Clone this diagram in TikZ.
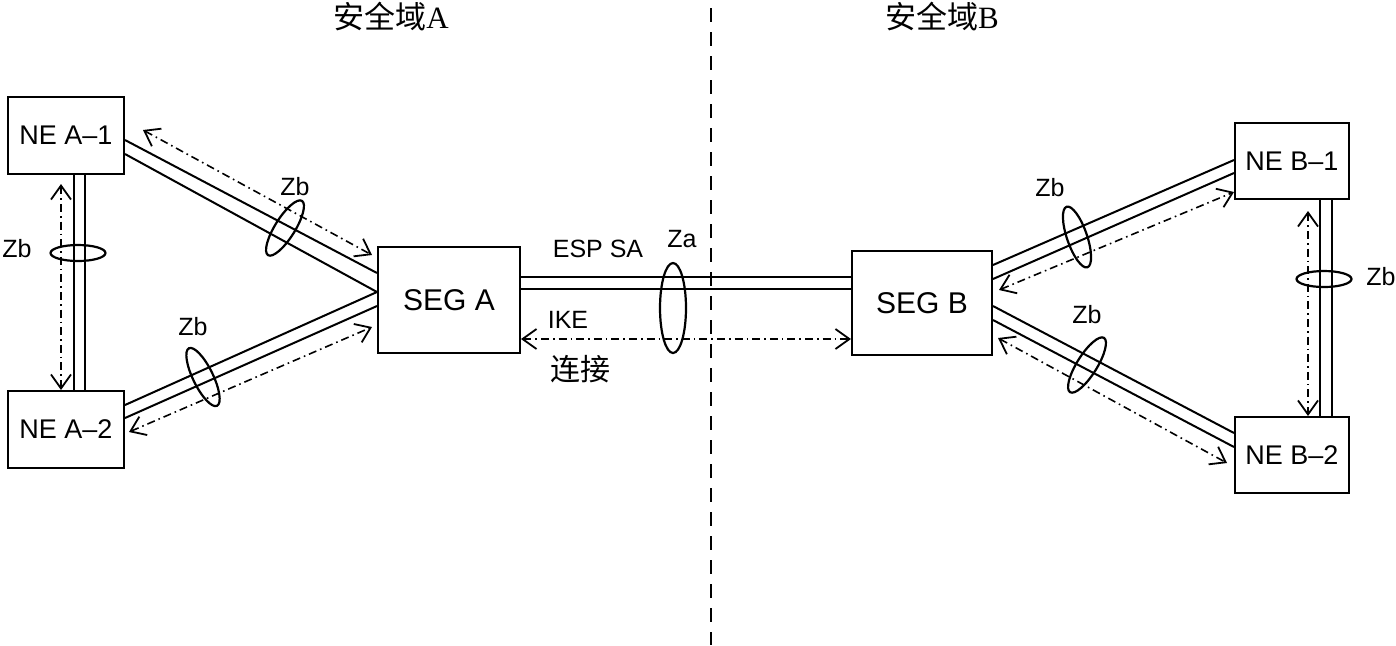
\documentclass[tikz,border=0pt]{standalone}
\usepackage{fontspec}
\setmainfont{Liberation Sans}
\newfontfamily\cjk{Noto Sans CJK SC}
\newfontfamily\serifA{Liberation Serif}
\usetikzlibrary{arrows.meta,shapes.geometric}
\begin{document}
\begin{tikzpicture}[x=0.5pt,y=-0.5pt,
  box/.style={draw, line width=1pt, inner sep=0pt, minimum width=58pt, minimum height=38.5pt, font=\fontsize{13.5}{16}\selectfont},
  seg/.style={draw, line width=1pt, minimum width=71pt, minimum height=53pt, inner sep=0pt, font=\fontsize{15}{18}\selectfont},
  wire/.style={line width=1pt},
  ctl/.style={line width=0.8pt, dash pattern=on 4pt off 2pt on 0.8pt off 2pt, {Straight Barb[length=7pt,width=10pt,line width=0.9pt]}-{Straight Barb[length=7pt,width=10pt,line width=0.9pt]}},
  ring/.style={draw, ellipse, line width=1.1pt, inner sep=0pt},
  lbl/.style={font=\fontsize{12.5}{15}\selectfont, inner sep=0pt},
  zh/.style={font=\fontsize{15.5}{18}\selectfont\cjk, inner sep=0pt},
]
\useasboundingbox (0,0) rectangle (1396,645);

% boxes
\node[box] (nea1) at (66,135.5) {NE A–1};
\node[box] (nea2) at (66,429.5) {NE A–2};
\node[seg] (sega) at (449,300) {SEG A};
\node[seg, minimum width=70pt, minimum height=52pt] (segb) at (922,303) {SEG B};
\node[box, minimum width=57pt, minimum height=38pt] (neb1) at (1292,161) {NE B–1};
\node[box, minimum width=57pt, minimum height=38pt] (neb2) at (1292,455) {NE B–2};

% domain separator
\draw[line width=0.9pt, dash pattern=on 7pt off 5pt] (711,8) -- (711,645);

% left wires
\draw[wire] ([yshift=-2.25pt]nea1.east) -- ([yshift=13.5pt]sega.west);
\draw[wire] ([yshift=-9.25pt]nea1.east) -- ([yshift=4pt]sega.west);
\draw[wire] ([yshift=12.25pt]nea2.east) -- ([yshift=4pt]sega.west);
\draw[wire] ([yshift=5.75pt]nea2.east) -- ([yshift=-3pt]sega.west);
\draw[wire] ([xshift=4pt]nea1.south) -- ([xshift=4pt]nea2.north);
\draw[wire] ([xshift=9.5pt]nea1.south) -- ([xshift=9.5pt]nea2.north);
\draw[ctl] ([xshift=9pt,yshift=2.75pt]nea1.east) -- ([xshift=-2.5pt,yshift=22.5pt]sega.west);
\draw[ctl] ([xshift=2pt,yshift=-1.25pt]nea2.east) -- ([xshift=-2.5pt,yshift=-13.5pt]sega.west);
\draw[ctl] ([xshift=-2.5pt,yshift=-4.5pt]nea1.south) -- ([xshift=-2.5pt]nea2.north);

% middle
\draw[wire] ([yshift=11.5pt]sega.east) -- ([yshift=11.5pt]sega.east -| segb.west);
\draw[wire] ([yshift=5.5pt]sega.east) -- ([yshift=5.5pt]sega.east -| segb.west);
\draw[ctl] ([yshift=-19.5pt]sega.east) -- ([yshift=-19.5pt]sega.east -| segb.west);

% right wires
\draw[wire] ([yshift=19pt]segb.east) -- ([yshift=0.5pt]neb1.west);
\draw[wire] ([yshift=12pt]segb.east) -- ([yshift=-6pt]neb1.west);
\draw[wire] ([yshift=-1.5pt]segb.east) -- ([yshift=11pt]neb2.west);
\draw[wire] ([yshift=-8.5pt]segb.east) -- ([yshift=4pt]neb2.west);
\draw[wire] ([xshift=14pt]neb1.south) -- ([xshift=14pt]neb2.north);
\draw[wire] ([xshift=20pt]neb1.south) -- ([xshift=20pt]neb2.north);
\draw[ctl] ([xshift=3pt,yshift=6.5pt]segb.east) -- ([yshift=-15.5pt]neb1.west);
\draw[ctl] ([xshift=2.5pt,yshift=-17.5pt]segb.east) -- ([xshift=-3.5pt,yshift=-4pt]neb2.west);
\draw[ctl] ([xshift=8pt,yshift=-5.5pt]neb1.south) -- ([xshift=8pt]neb2.north);

% rings
\node[ring, minimum width=32pt, minimum height=10pt, rotate=58] (r1) at (285,228) {};
\node[ring, minimum width=32pt, minimum height=10pt, rotate=-64] (r2) at (203,377) {};
\node[ring, minimum width=27.5pt, minimum height=8pt] (r3) at (78,253) {};
\node[ring, minimum width=13pt, minimum height=45pt] (rza) at (673,308) {};
\node[ring, minimum width=32pt, minimum height=10pt, rotate=-71] (r4) at (1077,237) {};
\node[ring, minimum width=32pt, minimum height=10pt, rotate=58] (r5) at (1087,365) {};
\node[ring, minimum width=27.5pt, minimum height=8pt] (r6) at (1324,279) {};

% labels
\node[lbl] (zb1) at (295,187) {Zb};
\node[lbl] (zb2) at (193,327) {Zb};
\node[lbl] (zb3) at (17,249) {Zb};
\node[lbl] (zb4) at (1050,188) {Zb};
\node[lbl] (zb5) at (1087,315) {Zb};
\node[lbl] (zb6) at (1381,277) {Zb};
\node[lbl] (za) at (682,239) {Za};
\node[lbl] (esp) at (598,249) {ESP SA};
\node[lbl] (ike) at (568,320) {IKE};
\node[zh, font=\fontsize{15}{18}\selectfont\cjk] (conn) at (580,369) {连接};
\node[zh] (ta) at (391,17) {安全域{\serifA A}};
\node[zh] (tb) at (942,17) {安全域{\serifA B}};
\end{tikzpicture}
\end{document}
